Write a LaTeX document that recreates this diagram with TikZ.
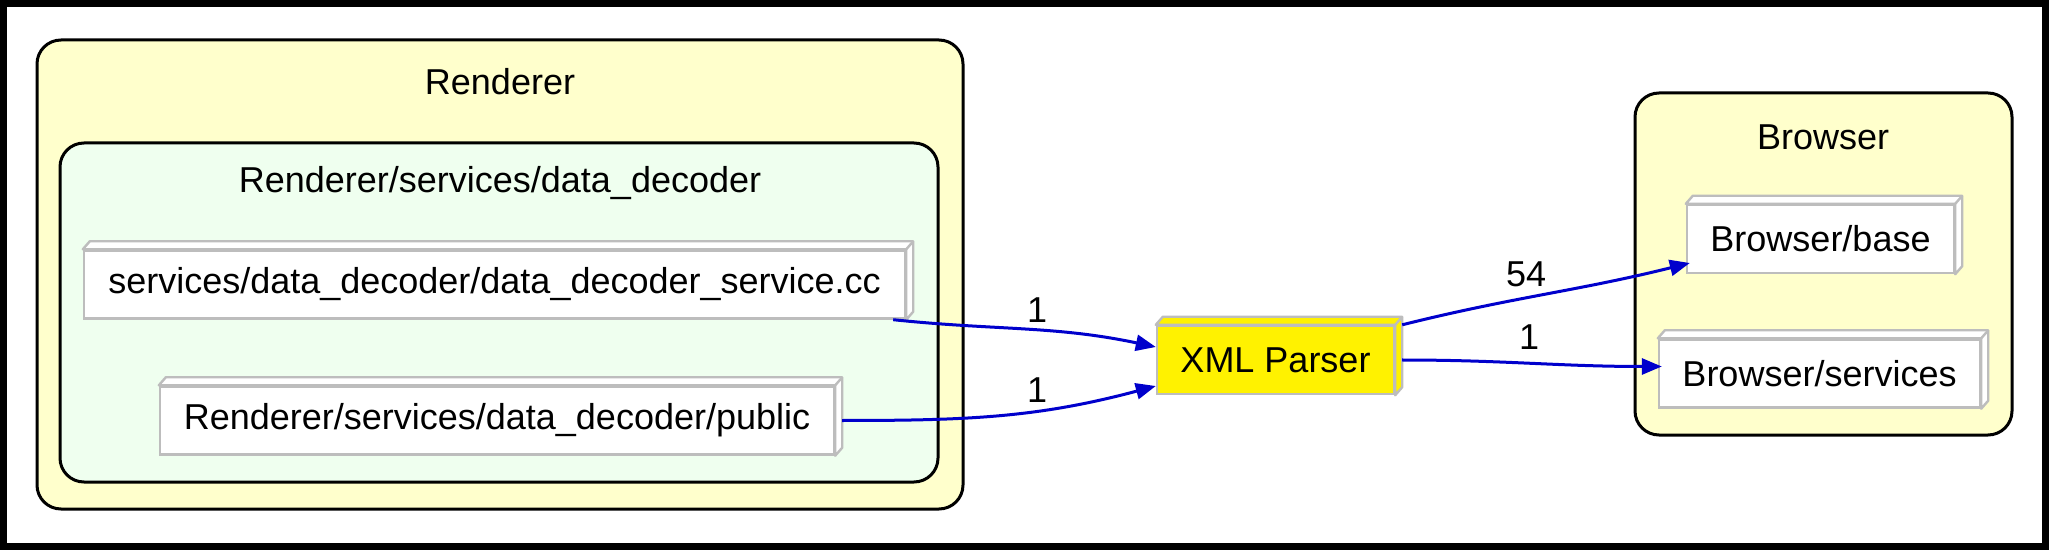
\documentclass[tikz,border=0pt]{standalone}
\usepackage{fontspec}
\setmainfont{Liberation Sans}
\usepackage{tikz}
\usetikzlibrary{calc,arrows.meta}
\definecolor{clusteryellow}{HTML}{FFFFCC}
\definecolor{clustergreen}{HTML}{EFFFEF}
\definecolor{boxgray}{HTML}{BDBDBD}
\definecolor{edgeblue}{HTML}{0000CC}
\tikzset{
  cluster/.style={draw=black, line width=1.5pt, rounded corners=12pt},
  modbox/.style={draw=boxgray, fill=white, line width=1.2pt, inner sep=0pt, minimum height=34pt, font=\fontsize{18}{22}\selectfont},
  dep/.style={draw=edgeblue, line width=1.5pt, -{Triangle[length=10pt,width=8pt]}},
  lbl/.style={font=\fontsize{18}{22}\selectfont, inner sep=0pt}
}
\newcommand{\boxdepth}[2]{\filldraw[draw=boxgray, fill=#2, line width=1.2pt, line join=round] (#1.north west) -- ++(7,-8) -- ($(#1.north east)+(7,-8)$) -- ($(#1.south east)+(7,-8)$) -- (#1.south east) -- (#1.north east) -- cycle; \draw[boxgray, line width=1.2pt] (#1.north east) -- ++(7,-8);}

\begin{document}
\begin{tikzpicture}[x=0.5pt, y=-0.5pt]
\useasboundingbox (0,0) rectangle (2049,550);
\fill[white] (0,0) rectangle (2049,550);
\draw[line width=3.5pt] (3.5,3.5) rectangle (2045.5,546.5);

\draw[cluster, fill=clusteryellow] (37,40) rectangle (963,509);
\node[lbl] (renderer) at (500,82) {Renderer};
\draw[cluster, fill=clustergreen] (60,143) rectangle (938,482);
\node[lbl] (decoder) at (500,183) {Renderer/services/data\_decoder};
\draw[cluster, fill=clusteryellow] (1635,93) rectangle (2012,435);
\node[lbl] (browser) at (1823,137) {Browser};

\node[modbox, minimum width=410.5pt] (svc) at (494.5,284.5) {services/data\_decoder/data\_decoder\_service.cc};
\node[modbox, minimum width=337pt] (pub) at (497,420.5) {Renderer/services/data\_decoder/public};
\node[modbox, fill=yellow, minimum width=118.5pt] (xml) at (1275.5,360) {XML Parser};
\node[modbox, minimum width=133.5pt] (base) at (1820.5,239) {Browser/base};
\node[modbox, minimum width=160.5pt] (bsvc) at (1819.5,373.5) {Browser/services};
\boxdepth{svc}{white}
\boxdepth{pub}{white}
\boxdepth{xml}{yellow}
\boxdepth{base}{white}
\boxdepth{bsvc}{white}

\draw[dep] ($(svc.south east)+(-13,0)$) to[out=-6,in=168] ($(xml.west)+(0,-13)$);
\draw[dep] ($(pub.east)+(7,0)$) to[out=0,in=195] ($(xml.west)+(0,26)$);
\draw[dep] ($(xml.north east)+(7,0)$) to[out=14,in=194] ($(base.west)+(4,24)$);
\draw[dep] ($(xml.east)+(7,0)$) to[out=0,in=180] ($(bsvc.west)+(4,-7)$);

\node[lbl] (n1) at (1037,310) {1};
\node[lbl] (n2) at (1037,390) {1};
\node[lbl] (n54) at (1526,274) {54};
\node[lbl] (n3) at (1529,337) {1};
\end{tikzpicture}
\end{document}
